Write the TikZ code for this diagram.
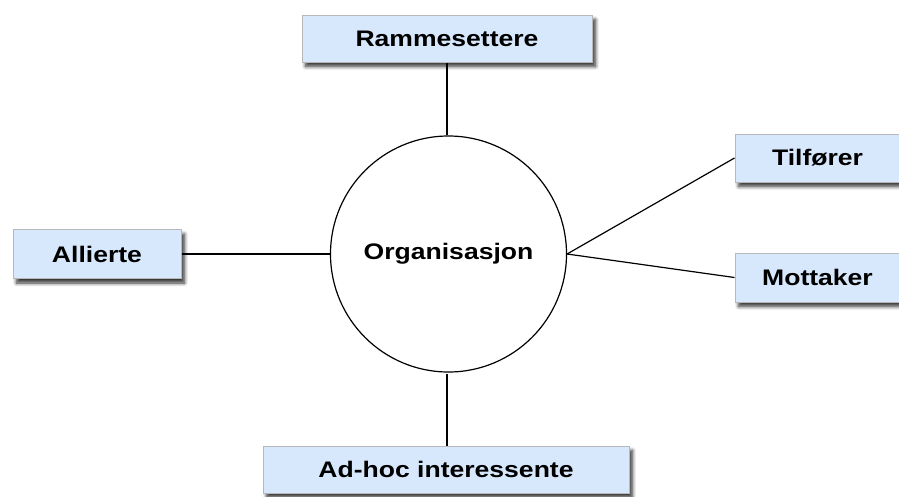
\documentclass[tikz,border=0pt]{standalone}
\usepackage{fontspec}
\usetikzlibrary{shadows.blur}
\newfontfamily\lab[FakeStretch=1.18]{Liberation Sans}
\definecolor{boxfill}{HTML}{D8E8FC}
\definecolor{boxline}{HTML}{B8B8B8}
\begin{document}
\begin{tikzpicture}[x=1pt,y=-1pt,
  lbl/.style={font=\lab\bfseries\fontsize{22.5}{26}\selectfont, text=black},
  box/.style={lbl, draw=boxline, line width=1pt, fill=boxfill, inner sep=0pt,
    blur shadow={shadow xshift=3.5pt, shadow yshift=-4.5pt, shadow blur steps=8, shadow blur radius=3.5pt, shadow opacity=80}},
  conn/.style={line width=1.2pt, black}]
\useasboundingbox (0,0) rectangle (899,496);
\clip (0,0) rectangle (899,496);
\node[box, minimum width=290pt, minimum height=47pt] (ramme) at (447,38.5) {Rammesettere};
\node[box, minimum width=165pt, minimum height=48pt] (tilf) at (817.5,158) {Tilfører};
\node[box, minimum width=165pt, minimum height=49pt] (mott) at (817.5,277.5) {Mottaker};
\node[box, minimum width=168pt, minimum height=49pt] (alli) at (97,254) {Allierte};
\node[box, minimum width=366pt, minimum height=47pt] (adhoc) at (446,469.5) {Ad-hoc interessente};
\node[lbl, circle, draw=black, line width=1.2pt, fill=white, minimum size=236pt, inner sep=0pt] (org) at (448.5,254) {Organisasjon};
\coordinate (rtop) at (447,134.5);
\coordinate (rbot) at (447,373.5);
\draw[conn] (ramme.south -| rtop) -- (rtop);
\draw[conn] (rbot) -- (adhoc.north -| rbot);
\draw[conn] (alli.east) -- (org.west);
\draw[conn] (org.east) -- (tilf.west);
\draw[conn] (org.east) -- (mott.west);
\end{tikzpicture}
\end{document}
